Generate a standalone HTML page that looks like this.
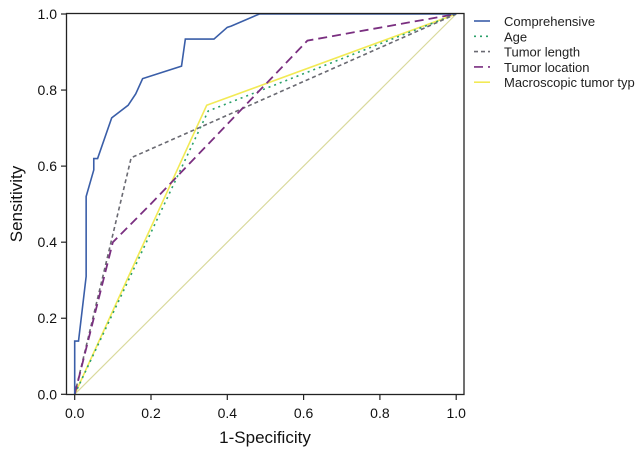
<!DOCTYPE html>
<html><head><meta charset="utf-8"><style>
body{margin:0;background:#fff;}
svg{display:block;font-family:"Liberation Sans",Arial,sans-serif;}
</style></head><body>
<svg id="chart" width="644" height="451" viewBox="0 0 644 451">
<rect x="0" y="0" width="644" height="451" fill="#fff"/>
<g id="plot"></g>
<g id="axes"></g>
<text x="265" y="443" font-size="17" text-anchor="middle" fill="#111">1-Specificity</text>
<text transform="translate(22,204) rotate(-90)" font-size="17" text-anchor="middle" fill="#111">Sensitivity</text>
<g id="legend"></g>
</svg>
<script>
const ticks = [0, 0.2, 0.4, 0.6, 0.8, 1.0];
const tickLabels = ["0.0", "0.2", "0.4", "0.6", "0.8", "1.0"];
const seriesNames = ["Comprehensive", "Age", "Tumor length", "Tumor location", "Macroscopic tumor typ"];
const compX = [0, 0, 0.01, 0.03, 0.03, 0.03, 0.05, 0.05, 0.06, 0.097, 0.14, 0.16, 0.178, 0.28, 0.29, 0.365, 0.4, 0.41, 0.484, 1];
const compY = [0, 0.14, 0.14, 0.31, 0.42, 0.52, 0.59, 0.62, 0.62, 0.727, 0.76, 0.79, 0.83, 0.863, 0.934, 0.934, 0.965, 0.968, 1, 1];
const ageX = [0, 0.35, 1];
const ageY = [0, 0.745, 1];
const lenX = [0, 0.148, 1];
const lenY = [0, 0.622, 1];
const locX = [0, 0.1, 0.127, 0.197, 0.61, 1];
const locY = [0, 0.4, 0.427, 0.498, 0.93, 1];
const macX = [0, 0.346, 1];
const macY = [0, 0.76, 1];
const refX = [0, 1];
const refY = [0, 1];

const X = v => 74.7 + v * 381.5;
const Y = v => 394.3 - v * 380.3;
const NS = "http://www.w3.org/2000/svg";
function mk(tag, attrs, parent) {
  const e = document.createElementNS(NS, tag);
  for (const k in attrs) e.setAttribute(k, attrs[k]);
  parent.appendChild(e);
  return e;
}
const plot = document.getElementById("plot");
const axes = document.getElementById("axes");
const legend = document.getElementById("legend");
const styles = [
  {stroke: "#3a5ea8", w: 1.6, dash: ""},
  {stroke: "#2aa06a", w: 1.6, dash: "2,4"},
  {stroke: "#6a6a72", w: 1.6, dash: "4,3"},
  {stroke: "#7a2f80", w: 1.8, dash: "9,5"},
  {stroke: "#f2ea55", w: 1.6, dash: ""}
];
function line(xs, ys, s, name) {
  const p = mk("polyline", {points: xs.map((x, i) => X(x) + "," + Y(ys[i])).join(" "), fill: "none", stroke: s.stroke, "stroke-width": s.w, "stroke-dasharray": s.dash}, plot);
  
  
}
line(refX, refY, {stroke: "#d9d99c", w: 1.2, dash: ""}, "reference-diagonal");
line(macX, macY, styles[4], "macroscopic-curve");
line(ageX, ageY, styles[1], "age-curve");
line(lenX, lenY, styles[2], "tumor-length-curve");
line(locX, locY, styles[3], "tumor-location-curve");
line(compX, compY, styles[0], "comprehensive-curve");

const frame = mk("rect", {x: 66.5, y: 13.5, width: 397.5, height: 381, fill: "none", stroke: "#222", "stroke-width": 1.3}, axes);


ticks.forEach((t, i) => {
  const tx = mk("line", {x1: X(t), x2: X(t), y1: 395, y2: 400, stroke: "#222", "stroke-width": 1.2}, axes);
  
  
  const lx = mk("text", {x: X(t), y: 418, "font-size": 14, "text-anchor": "middle", fill: "#111"}, axes);
  lx.textContent = tickLabels[i];
  
  
  const ty = mk("line", {x1: 61, x2: 66.5, y1: Y(t), y2: Y(t), stroke: "#222", "stroke-width": 1.2}, axes);
  
  
  const ly = mk("text", {x: 57, y: Y(t) + 5, "font-size": 14, "text-anchor": "end", fill: "#111"}, axes);
  ly.textContent = tickLabels[i];
  
  
});
seriesNames.forEach((n, i) => {
  const y = 21 + i * 15.3;
  const l = mk("line", {x1: 474, x2: 490, y1: y, y2: y, stroke: styles[i].stroke, "stroke-width": 1.6, "stroke-dasharray": styles[i].dash}, legend);
  
  
  const t = mk("text", {x: 504, y: y + 5, "font-size": 13, fill: "#222"}, legend);
  t.textContent = n;
  
  
});
</script>
</body></html>
